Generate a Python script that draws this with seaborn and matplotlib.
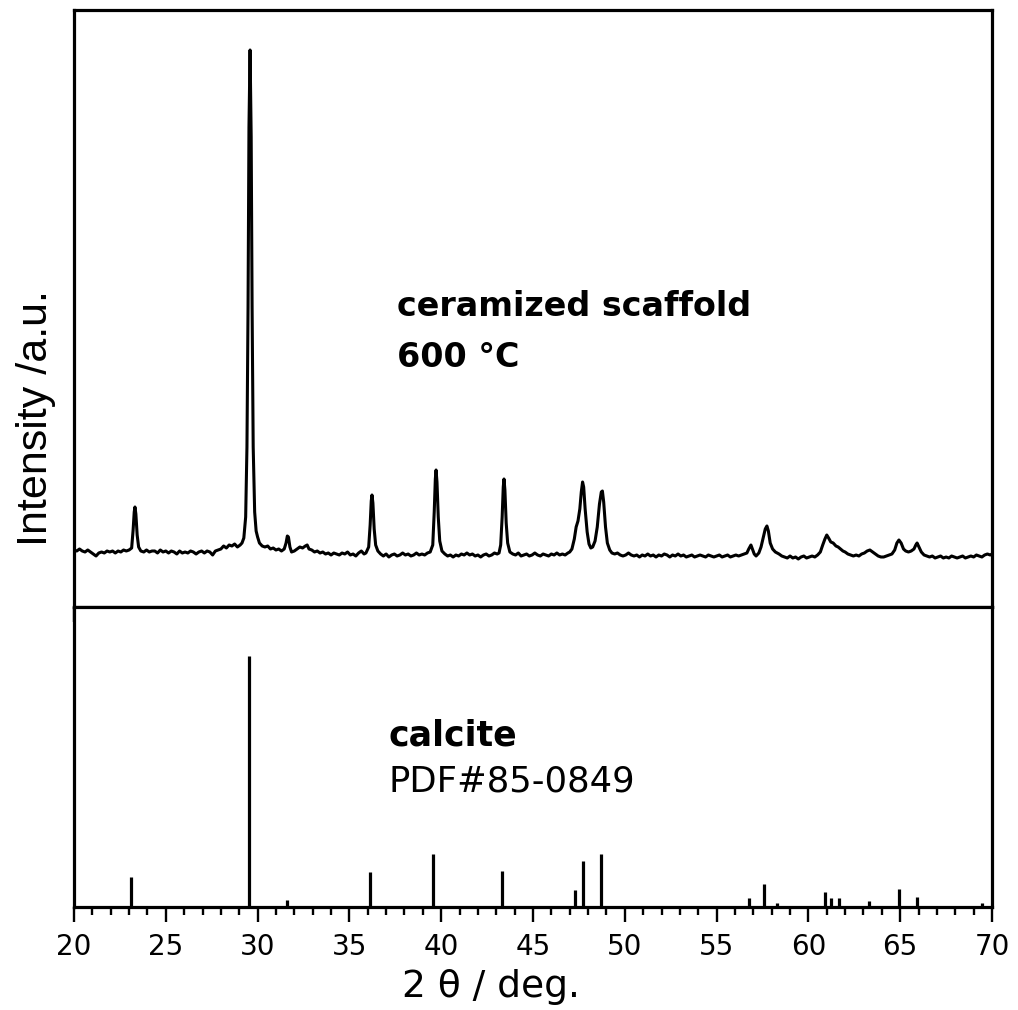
import matplotlib
matplotlib.use("Agg")
import numpy as np
import pandas as pd
import matplotlib.pyplot as plt
import seaborn as sns
from matplotlib.ticker import MultipleLocator

# ---------------- data ----------------
# measured XRD scan: (2theta in deg, intensity in a.u.)
xrd_scan = [
    (20.0, 57), (20.15, 56), (20.3, 58), (20.45, 56), (20.6, 55), (20.75, 57), (20.9, 55),
    (21.05, 53), (21.2, 51), (21.35, 54), (21.5, 55), (21.65, 54), (21.8, 56), (21.95, 55),
    (22.1, 56), (22.25, 54), (22.4, 56), (22.55, 55), (22.7, 57), (22.85, 56), (23.0, 57),
    (23.14, 59), (23.22, 77), (23.28, 95), (23.32, 100), (23.37, 93), (23.44, 72), (23.52, 60),
    (23.64, 56),
    (23.8, 55), (23.95, 57), (24.1, 55), (24.25, 56), (24.4, 56), (24.55, 54), (24.7, 57),
    (24.85, 55), (25.0, 56), (25.15, 54), (25.3, 56), (25.45, 55), (25.6, 53), (25.75, 56),
    (25.9, 54), (26.05, 55), (26.2, 54), (26.35, 56), (26.5, 55), (26.65, 53), (26.8, 55),
    (26.95, 56), (27.1, 54), (27.25, 56), (27.4, 55), (27.55, 52), (27.7, 56), (27.85, 57),
    (28.0, 58), (28.15, 61), (28.3, 59), (28.45, 62), (28.6, 61), (28.75, 63), (28.9, 60),
    (29.05, 62), (29.15, 64),
    (29.25, 69), (29.35, 90), (29.42, 160), (29.48, 300), (29.53, 480), (29.59, 557),
    (29.65, 470), (29.70, 300), (29.76, 160), (29.84, 95), (29.92, 76), (30.0, 70),
    (30.1, 64), (30.25, 61), (30.4, 60), (30.55, 61), (30.7, 58), (30.85, 59), (31.0, 57),
    (31.15, 58), (31.3, 56), (31.45, 58), (31.55, 64), (31.62, 71), (31.68, 70), (31.76, 60),
    (31.85, 55), (32.0, 56), (32.15, 58), (32.3, 60), (32.45, 59), (32.6, 61), (32.7, 62),
    (32.8, 58), (32.95, 57), (33.1, 55), (33.25, 56), (33.4, 54), (33.55, 55), (33.7, 53),
    (33.85, 54), (34.0, 52), (34.15, 54), (34.3, 53), (34.45, 52), (34.6, 54), (34.75, 53),
    (34.9, 55), (35.05, 52), (35.2, 53), (35.35, 51), (35.5, 54), (35.65, 56), (35.8, 53),
    (35.9, 54),
    (36.05, 60), (36.13, 82), (36.19, 106), (36.23, 112), (36.28, 104), (36.35, 78),
    (36.43, 62), (36.55, 56),
    (36.7, 53), (36.85, 51), (37.0, 53), (37.15, 50), (37.3, 52), (37.45, 53), (37.6, 51),
    (37.75, 52), (37.9, 54), (38.05, 52), (38.2, 53), (38.35, 51), (38.5, 52), (38.65, 54),
    (38.8, 52), (38.95, 53), (39.1, 52), (39.25, 54), (39.4, 55),
    (39.54, 62), (39.62, 95), (39.68, 128), (39.72, 137), (39.77, 125), (39.84, 90),
    (39.92, 66), (40.04, 56),
    (40.2, 53), (40.35, 51), (40.5, 52), (40.65, 50), (40.8, 52), (40.95, 51), (41.1, 53),
    (41.25, 52), (41.4, 54), (41.55, 52), (41.7, 53), (41.85, 51), (42.0, 52), (42.15, 50),
    (42.3, 52), (42.45, 53), (42.6, 51), (42.75, 52), (42.9, 54), (43.05, 53), (43.15, 54),
    (43.24, 62), (43.32, 90), (43.38, 120), (43.42, 128), (43.47, 117), (43.54, 84),
    (43.62, 64), (43.74, 55),
    (43.9, 53), (44.05, 52), (44.2, 54), (44.35, 51), (44.5, 52), (44.65, 53), (44.8, 51),
    (44.95, 52), (45.1, 54), (45.25, 52), (45.4, 51), (45.55, 53), (45.7, 52), (45.85, 51),
    (46.0, 53), (46.15, 52), (46.3, 54), (46.45, 52), (46.6, 53), (46.75, 52), (46.9, 54),
    (47.0, 55), (47.12, 58), (47.25, 68), (47.35, 80), (47.45, 86), (47.55, 98), (47.63, 115),
    (47.70, 125), (47.76, 120), (47.84, 98), (47.95, 75), (48.05, 63), (48.15, 59),
    (48.25, 60), (48.38, 66), (48.50, 80), (48.62, 103), (48.72, 115), (48.78, 116),
    (48.85, 105), (48.95, 80), (49.05, 64), (49.18, 57), (49.3, 54),
    (49.45, 53), (49.6, 54), (49.75, 52), (49.9, 51), (50.05, 52), (50.2, 54), (50.35, 52),
    (50.5, 51), (50.65, 52), (50.8, 50), (50.95, 52), (51.1, 51), (51.25, 53), (51.4, 51),
    (51.55, 52), (51.7, 50), (51.85, 52), (52.0, 51), (52.15, 53), (52.3, 52), (52.45, 50),
    (52.6, 52), (52.75, 51), (52.9, 53), (53.05, 51), (53.2, 52), (53.35, 50), (53.5, 51),
    (53.65, 52), (53.8, 50), (53.95, 51), (54.1, 52), (54.25, 51), (54.4, 50), (54.55, 52),
    (54.7, 51), (54.85, 50), (55.0, 51), (55.15, 52), (55.3, 50), (55.45, 51), (55.6, 52),
    (55.75, 50), (55.9, 51), (56.05, 52), (56.2, 51), (56.35, 52), (56.5, 53), (56.65, 54),
    (56.75, 58), (56.87, 62), (56.95, 58), (57.05, 53), (57.15, 51), (57.3, 54), (57.42, 60),
    (57.55, 70), (57.65, 78), (57.74, 81), (57.82, 76), (57.92, 64), (58.05, 58), (58.2, 55),
    (58.4, 53), (58.55, 51), (58.7, 50), (58.85, 49), (59.0, 51), (59.15, 49), (59.3, 50),
    (59.45, 48), (59.6, 50), (59.75, 51), (59.9, 49), (60.05, 50), (60.2, 51), (60.35, 50),
    (60.5, 52), (60.65, 55), (60.78, 62), (60.9, 68), (61.0, 72), (61.1, 69), (61.22, 65),
    (61.35, 64), (61.5, 61), (61.62, 60), (61.75, 58), (61.88, 56), (62.0, 55), (62.15, 53),
    (62.3, 52), (62.45, 51), (62.6, 52), (62.75, 51), (62.9, 53), (63.05, 54), (63.2, 56),
    (63.35, 57), (63.5, 55), (63.65, 53), (63.8, 51), (63.95, 50), (64.1, 50), (64.25, 51),
    (64.4, 52), (64.55, 53), (64.7, 57), (64.82, 64), (64.93, 67), (65.05, 64), (65.18, 58),
    (65.3, 56), (65.45, 55), (65.6, 56), (65.75, 58), (65.85, 62), (65.92, 64), (66.02, 60),
    (66.15, 55), (66.3, 52), (66.45, 51), (66.6, 50), (66.75, 51), (66.9, 49), (67.05, 50),
    (67.2, 51), (67.35, 49), (67.5, 50), (67.65, 49), (67.8, 51), (67.95, 50), (68.1, 49),
    (68.25, 50), (68.4, 51), (68.55, 49), (68.7, 50), (68.85, 51), (69.0, 50), (69.15, 52),
    (69.3, 51), (69.45, 50), (69.6, 52), (69.75, 53), (69.9, 52), (70.0, 53),
]

# calcite reference pattern PDF#85-0849 (stick positions and heights)
stick_2theta = [23.10, 29.53, 31.60, 36.12, 39.55, 43.31, 47.29, 47.72, 48.70,
                56.76, 57.58, 58.29, 60.90, 61.23, 61.67, 63.30, 64.93, 65.92, 69.46]
stick_height = [30, 251, 7, 35, 53, 36, 17, 46, 53,
                9, 23, 4, 15, 9, 9, 6, 18, 10, 4]

x_ticks = [20, 25, 30, 35, 40, 45, 50, 55, 60, 65, 70]

# ---------------- figure ----------------
sns.set_style("white")
plt.rcParams["font.family"] = ["DejaVu Sans"]
plt.rcParams["text.color"] = "black"
plt.rcParams["axes.labelcolor"] = "black"
plt.rcParams["xtick.color"] = "black"
plt.rcParams["ytick.color"] = "black"

scan = pd.DataFrame(xrd_scan, columns=["two_theta", "intensity"])
sticks = pd.DataFrame({"two_theta": stick_2theta, "height": stick_height})

W_PX, H_PX = 1018, 1010
fig = plt.figure(figsize=(W_PX / 100, H_PX / 100), dpi=100)
left = 74 / W_PX
width = (992 - 74) / W_PX
ax1 = fig.add_axes([left, 1 - 607 / H_PX, width, 597 / H_PX])
ax2 = fig.add_axes([left, 1 - 907 / H_PX, width, 300 / H_PX])

sns.lineplot(data=scan, x="two_theta", y="intensity", ax=ax1, color="black",
             linewidth=2.2, estimator=None, sort=False)
ax2.vlines(sticks["two_theta"], 0, sticks["height"], color="black", linewidth=2.3)

for ax in (ax1, ax2):
    ax.set_xlim(20, 70)
    ax.set_xticks(x_ticks)
    ax.xaxis.set_minor_locator(MultipleLocator(1))
    ax.set_yticks([])
    ax.set_xlabel("")
    ax.set_ylabel("")
    for s in ax.spines.values():
        s.set_linewidth(2.3)
        s.set_color("black")
    ax.tick_params(axis="x", which="major", direction="out", length=10.5, width=1.7,
                   bottom=True, top=False, color="black")
    ax.tick_params(axis="x", which="minor", direction="out", length=5.5, width=1.7,
                   bottom=True, top=False, color="black")
    ax.set_facecolor("white")

ax1.set_ylim(0, 597)
ax1.tick_params(axis="x", which="both", labelbottom=False)
ax2.set_ylim(0, 300)
ax2.tick_params(axis="x", which="major", labelsize=20, pad=8, labelcolor="black")

# texts
def fy(py):
    return 1 - py / H_PX

fig.text(397 / W_PX, fy(316), "ceramized scaffold", fontsize=24, fontweight="bold",
         ha="left", va="baseline", color="black")
fig.text(397 / W_PX, fy(367), "600 °C", fontsize=24, fontweight="bold",
         ha="left", va="baseline", color="black")
fig.text(389 / W_PX, fy(745), "calcite", fontsize=25, fontweight="bold",
         ha="left", va="baseline", color="black")
fig.text(389 / W_PX, fy(792), "PDF#85-0849", fontsize=25.5,
         ha="left", va="baseline", color="black")
fig.text(491 / W_PX, fy(997), "2 θ / deg.", fontsize=27, ha="center", va="baseline",
         color="black")
fig.text(36 / W_PX, fy(418), "Intensity /a.u.", fontsize=31, rotation=90,
         ha="center", va="center", family=["Liberation Sans", "DejaVu Sans"],
         color="black")

fig.savefig("out.png", dpi=100, facecolor="white")
